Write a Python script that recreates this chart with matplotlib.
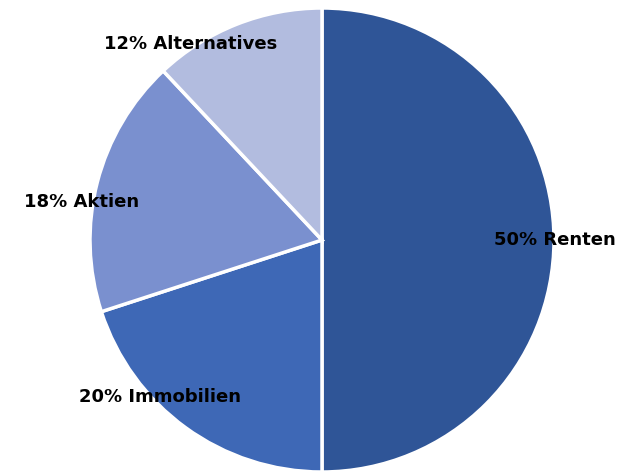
import matplotlib
matplotlib.use("Agg")
import matplotlib.pyplot as plt

labels = ["Renten", "Immobilien", "Aktien", "Alternatives"]
values = [50, 20, 18, 12]
colors = ["#2F5597", "#3E68B6", "#7A90CF", "#B2BCDF"]
label_pos = [(555, 240), (160, 397), (82, 202), (191, 44)]

W, H = 632, 471
fig = plt.figure(figsize=(W / 100, H / 100), dpi=100)
ax = fig.add_axes([0, 0, 1, 1])
ax.set_xlim(0, W)
ax.set_ylim(0, H)
ax.axis("off")

ax.pie(values, colors=colors, startangle=90, counterclock=False,
       center=(322, H - 240), radius=232,
       wedgeprops=dict(edgecolor="white", linewidth=2.5))
ax.set_xlim(0, W)
ax.set_ylim(0, H)
ax.set_aspect("auto")

for lab, v, (x, y) in zip(labels, values, label_pos):
    ax.text(x, H - y, f"{v}% {lab}", ha="center", va="center",
            fontsize=13, fontweight="bold", family="DejaVu Sans", color="black")

fig.savefig("out.png", dpi=100)
